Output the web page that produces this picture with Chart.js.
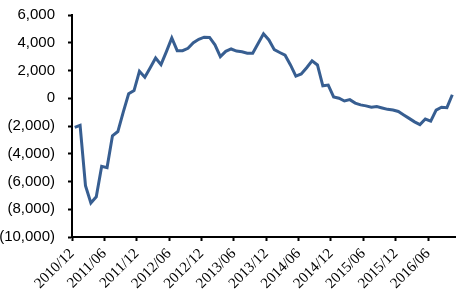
<!DOCTYPE html>
<html>
<head>
<meta charset="utf-8">
<script src="https://cdn.jsdelivr.net/npm/chart.js@4/dist/chart.umd.min.js"></script>
<style>
  html, body { margin: 0; padding: 0; background: #fff; }
  #wrap { width: 463px; height: 294px; }
</style>
</head>
<body>
<div id="wrap"><canvas id="chart" width="463" height="294"></canvas></div>
<script>
// Meses (dados mensais)
const months = [
  "2010/12",
  "2011/01", "2011/02", "2011/03", "2011/04", "2011/05", "2011/06",
  "2011/07", "2011/08", "2011/09", "2011/10", "2011/11", "2011/12",
  "2012/01", "2012/02", "2012/03", "2012/04", "2012/05", "2012/06",
  "2012/07", "2012/08", "2012/09", "2012/10", "2012/11", "2012/12",
  "2013/01", "2013/02", "2013/03", "2013/04", "2013/05", "2013/06",
  "2013/07", "2013/08", "2013/09", "2013/10", "2013/11", "2013/12",
  "2014/01", "2014/02", "2014/03", "2014/04", "2014/05", "2014/06",
  "2014/07", "2014/08", "2014/09", "2014/10", "2014/11", "2014/12",
  "2015/01", "2015/02", "2015/03", "2015/04", "2015/05", "2015/06",
  "2015/07", "2015/08", "2015/09", "2015/10", "2015/11", "2015/12",
  "2016/01", "2016/02", "2016/03", "2016/04", "2016/05", "2016/06",
  "2016/07", "2016/08", "2016/09", "2016/10",
];

// Valores da série
const values = [
  -2100,
  -1950, -6300, -7550, -7100, -4900, -5000,
  -2700, -2400, -1000, 320, 550, 1940,
  1510, 2200, 2900, 2420, 3360, 4350,
  3430, 3430, 3600, 4000, 4250, 4400,
  4380, 3850, 3000, 3380, 3550, 3400,
  3350, 3250, 3240, 3950, 4650, 4200,
  3500, 3300, 3100, 2400, 1600, 1750,
  2200, 2700, 2400, 900, 950, 100,
  0, -200, -100, -350, -480, -550,
  -650, -600, -700, -800, -850, -950,
  -1200, -1450, -1700, -1900, -1500, -1650,
  -850, -650, -680, 250,
];

// Rótulos do eixo X (a cada 6 meses)
const xTickLabels = [
  "2010/12", "2011/06", "2011/12", "2012/06", "2012/12", "2013/06",
  "2013/12", "2014/06", "2014/12", "2015/06", "2015/12", "2016/06",
];

const yMin = -10000;
const yMax = 6000;
const yStep = 2000;

// Formato: negativos entre parênteses
function formatNum(v) {
  const s = Math.abs(v).toLocaleString("en-US");
  return v < 0 ? "(" + s + ")" : s;
}

const ctx = document.getElementById("chart").getContext("2d");
const chart = new Chart(ctx, {
  type: "line",
  data: {
    datasets: [
      {
        data: values.map((v, i) => ({ x: i + 0.5, y: v })),
        borderColor: "#375e91",
        borderWidth: 3,
        pointRadius: 0,
        tension: 0,
        fill: false,
      },
    ],
  },
  options: {
    responsive: false,
    animation: false,
    layout: { padding: { top: 15, right: 8, left: 0, bottom: 0 } },
    plugins: {
      legend: { display: false },
      tooltip: { enabled: false },
    },
    scales: {
      x: {
        type: "linear",
        min: 0,
        max: months.length,
        afterBuildTicks: (scale) => {
          scale.ticks = xTickLabels.map((l) => ({ value: months.indexOf(l) }));
        },
        afterFit: (scale) => {
          scale.height = 57;
        },
        grid: {
          display: true,
          drawOnChartArea: false,
          drawTicks: true,
          tickLength: 4,
          tickColor: "#000",
          tickWidth: 2,
        },
        border: { display: true, color: "#000", width: 2 },
        ticks: {
          autoSkip: false,
          maxRotation: 45,
          minRotation: 45,
          padding: 4,
          color: "#000",
          font: { family: "'Liberation Serif', serif", size: 15 },
          callback: (v) => months[v],
        },
      },
      y: {
        min: yMin,
        max: yMax,
        afterFit: (scale) => {
          scale.width = 72;
          scale.paddingTop = 0;
          scale.paddingBottom = 0;
        },
        grid: {
          display: true,
          drawOnChartArea: false,
          drawTicks: true,
          tickLength: 4,
          tickColor: "#000",
          tickWidth: 2,
        },
        border: { display: true, color: "#000", width: 2 },
        ticks: {
          stepSize: yStep,
          padding: 13,
          color: "#000",
          font: { family: "'Liberation Sans', Arial, sans-serif", size: 15 },
          callback: (v) => formatNum(v),
        },
      },
    },
  },
});
</script>
</body>
</html>
